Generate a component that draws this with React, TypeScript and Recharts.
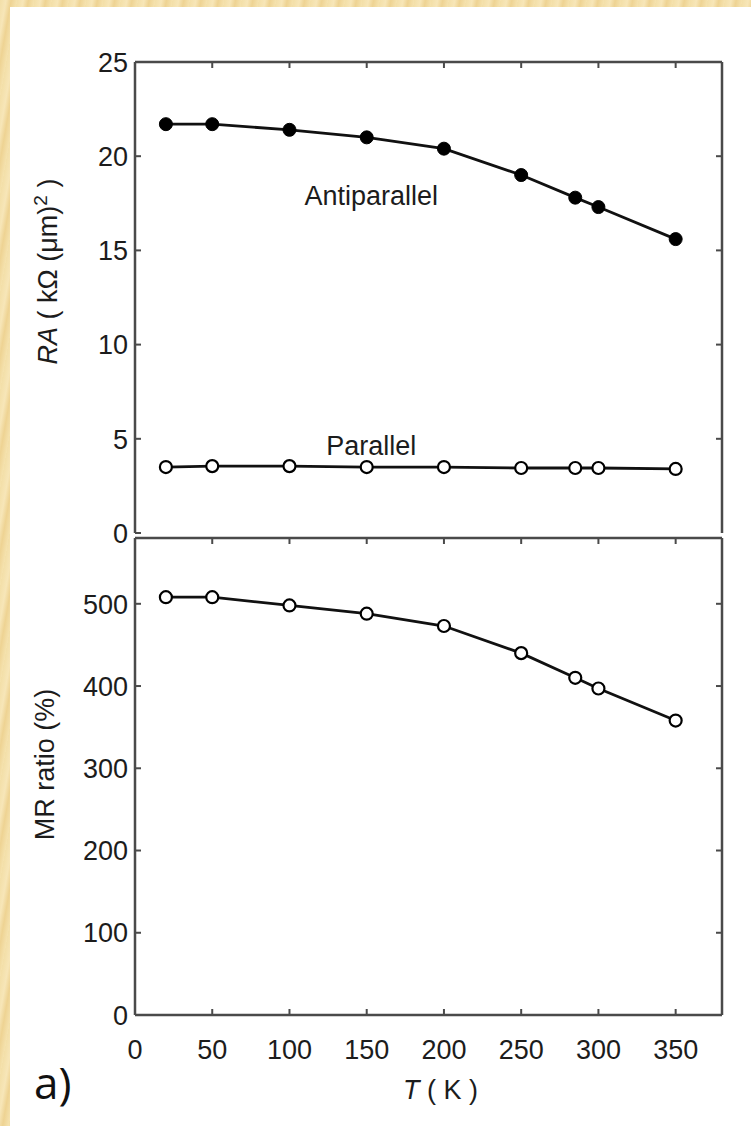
import { Label, Line, LineChart, ReferenceDot, XAxis, YAxis } from "recharts";

// temperature (K) of each measurement
const temps = [20, 50, 100, 150, 200, 250, 285, 300, 350];
// RA product, kΩ (μm)²
const antiparallelRA = [21.7, 21.7, 21.4, 21.0, 20.4, 19.0, 17.8, 17.3, 15.6];
const parallelRA = [3.5, 3.55, 3.55, 3.5, 3.5, 3.45, 3.45, 3.45, 3.4];
// magnetoresistance ratio, %
const mrRatio = [508, 508, 498, 488, 473, 440, 410, 397, 358];

const tTicks = [0, 50, 100, 150, 200, 250, 300, 350];
const raTicks = [0, 5, 10, 15, 20, 25];
const mrTicks = [0, 100, 200, 300, 400, 500];

const rows = temps.map((t, i) => ({
  t,
  ap: antiparallelRA[i],
  p: parallelRA[i],
  mr: mrRatio[i],
}));

const FONT = "'Liberation Sans', Arial, Helvetica, sans-serif";
const AXIS = "#4a4a4a";
const INK = "#111";
const TEXT = "#1c1c1c";
const FS = 27;
const TICK_LEN = 6;
const W = 751;

function LeftTick(props: any) {
  const { x, y, payload } = props;
  return (
    <g>
      <line x1={x} y1={y} x2={x + TICK_LEN} y2={y} stroke={AXIS} strokeWidth={2} />
      <text x={x - 7} y={y} dy="0.36em" textAnchor="end" fontSize={FS} fill={TEXT} fontFamily={FONT}>
        {payload.value}
      </text>
    </g>
  );
}

function RightTick(props: any) {
  const { x, y } = props;
  return <line x1={x} y1={y} x2={x - TICK_LEN} y2={y} stroke={AXIS} strokeWidth={2} />;
}

function TopTick(props: any) {
  const { x, y } = props;
  return <line x1={x} y1={y} x2={x} y2={y + TICK_LEN} stroke={AXIS} strokeWidth={2} />;
}

function BottomTick(props: any) {
  const { x, y } = props;
  return <line x1={x} y1={y} x2={x} y2={y - TICK_LEN} stroke={AXIS} strokeWidth={2} />;
}

function BottomLabelTick(props: any) {
  const { x, y, payload } = props;
  return (
    <g>
      <line x1={x} y1={y} x2={x} y2={y - TICK_LEN} stroke={AXIS} strokeWidth={2} />
      <text x={x} y={y + 34} dy="0.36em" textAnchor="middle" fontSize={FS} fill={TEXT} fontFamily={FONT}>
        {payload.value}
      </text>
    </g>
  );
}

const filledDot = { r: 6.5, fill: "#000", stroke: "#000", strokeWidth: 1 };
const openDot = { r: 6, fill: "#fff", stroke: "#000", strokeWidth: 2.2 };

function RALabel(props: any) {
  const vb = props.viewBox;
  const cx = vb.x + 47;
  const cy = vb.y + vb.height / 2 - 26;
  return (
    <text
      x={cx}
      y={cy}
      transform={`rotate(-90 ${cx} ${cy})`}
      textAnchor="middle"
      dy="0.36em"
      fontSize={FS}
      fill={TEXT}
      fontFamily={FONT}
    >
      <tspan fontStyle="italic">RA</tspan>
      <tspan> (  kΩ (μm)</tspan>
      <tspan dy={-10} fontSize={19}>2</tspan>
      <tspan dy={10}> )</tspan>
    </text>
  );
}

function MRLabel(props: any) {
  const vb = props.viewBox;
  const cx = vb.x + 44;
  const cy = vb.y + vb.height / 2 - 12;
  return (
    <text
      x={cx}
      y={cy}
      transform={`rotate(-90 ${cx} ${cy})`}
      textAnchor="middle"
      dy="0.36em"
      fontSize={FS}
      fill={TEXT}
      fontFamily={FONT}
    >
      MR ratio (%)
    </text>
  );
}

function TLabel(props: any) {
  const vb = props.viewBox;
  const cx = vb.x + vb.width / 2 + 12;
  const cy = vb.y + 74;
  return (
    <text x={cx} y={cy} textAnchor="middle" dy="0.36em" fontSize={FS} fill={TEXT} fontFamily={FONT}>
      <tspan fontStyle="italic">T</tspan>
      <tspan> ( K )</tspan>
    </text>
  );
}

function Note({ text }: { text: string }) {
  return (props: any) => (
    <text
      x={props.viewBox.x}
      y={props.viewBox.y}
      textAnchor="middle"
      dy="0.36em"
      fontSize={FS}
      fill={TEXT}
      fontFamily={FONT}
    >
      {text}
    </text>
  );
}

const frameLine = { stroke: AXIS, strokeWidth: 2.5 };

const sharedX = (
  id: string,
  orientation: "top" | "bottom",
  tick: any,
  height: number,
  label?: any
) => (
  <XAxis
    xAxisId={id}
    dataKey="t"
    type="number"
    domain={[0, 380]}
    ticks={tTicks}
    interval={0}
    orientation={orientation}
    height={height}
    tickSize={0}
    tickMargin={0}
    tickLine={false}
    tick={tick}
    axisLine={frameLine}
    allowDataOverflow
  >
    {label}
  </XAxis>
);

const sharedY = (id: string, orientation: "left" | "right", max: number, ticks: number[], tick: any, width: number, label?: any) => (
  <YAxis
    yAxisId={id}
    orientation={orientation}
    type="number"
    domain={[0, max]}
    ticks={ticks}
    interval={0}
    width={width}
    tickSize={0}
    tickMargin={0}
    tickLine={false}
    tick={tick}
    axisLine={frameLine}
    allowDataOverflow
  >
    {label}
  </YAxis>
);

// invisible series bound to the top/right frame axes so they are drawn
const ghost = (key: string) => (
  <Line
    xAxisId="top"
    yAxisId="r"
    dataKey={key}
    stroke="none"
    dot={false}
    activeDot={false}
    legendType="none"
    isAnimationActive={false}
  />
);

export default function App() {
  return (
    <div
      style={{
        position: "relative",
        width: W,
        height: 1126,
        overflow: "hidden",
        background:
          "repeating-linear-gradient(100deg, #f3dfa8 0px, #f7e6b8 6px, #eed393 11px, #f5e2ae 17px)",
      }}
    >
      <style>{`body{margin:0}`}</style>
      <div
        style={{ position: "absolute", left: 10, top: 7, right: 0, bottom: 0, background: "#fff" }}
      />

      {/* upper panel: RA vs T */}
      <div style={{ position: "absolute", left: 0, top: 0 }}>
        <LineChart width={W} height={560} data={rows} margin={{ top: 61, right: 28, bottom: 27, left: 0 }}>
          {sharedX("b", "bottom", <BottomTick />, 0)}
          {sharedX("top", "top", <TopTick />, 1)}
          {sharedY("l", "left", 25, raTicks, <LeftTick />, 135, <Label content={<RALabel />} />)}
          {sharedY("r", "right", 25, [5, 10, 15, 20], <RightTick />, 1)}
          <ReferenceDot xAxisId="b" yAxisId="l" x={153} y={17.9} r={0} label={Note({ text: "Antiparallel" })} />
          <ReferenceDot xAxisId="b" yAxisId="l" x={153} y={4.65} r={0} label={Note({ text: "Parallel" })} />
          {ghost("p")}
          <Line
            xAxisId="b"
            yAxisId="l"
            dataKey="ap"
            stroke={INK}
            strokeWidth={2.8}
            dot={filledDot}
            isAnimationActive={false}
          />
          <Line
            xAxisId="b"
            yAxisId="l"
            dataKey="p"
            stroke={INK}
            strokeWidth={2.8}
            dot={openDot}
            isAnimationActive={false}
          />
        </LineChart>
      </div>

      {/* lower panel: MR ratio vs T */}
      <div style={{ position: "absolute", left: 0, top: 530 }}>
        <LineChart width={W} height={596} data={rows} margin={{ top: 7, right: 28, bottom: 11, left: 0 }}>
          {sharedX("b", "bottom", <BottomLabelTick />, 100, <Label content={<TLabel />} />)}
          {sharedX("top", "top", <TopTick />, 1)}
          {sharedY("l", "left", 580, mrTicks, <LeftTick />, 135, <Label content={<MRLabel />} />)}
          {sharedY("r", "right", 580, mrTicks.slice(1), <RightTick />, 1)}
          {ghost("mr")}
          <Line
            xAxisId="b"
            yAxisId="l"
            dataKey="mr"
            stroke={INK}
            strokeWidth={2.8}
            dot={openDot}
            isAnimationActive={false}
          />
        </LineChart>
      </div>

      <div
        style={{
          position: "absolute",
          left: 34,
          top: 1056,
          fontFamily: "'Open Sans', 'Noto Sans', sans-serif",
          fontSize: 44,
          lineHeight: "52px",
          color: "#111",
        }}
      >
        a)
      </div>
    </div>
  );
}
